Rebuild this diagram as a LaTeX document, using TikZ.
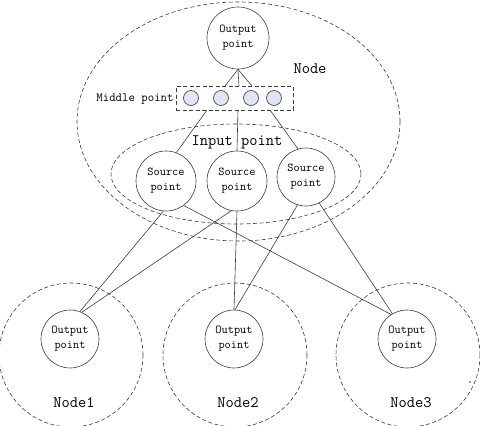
\documentclass[tikz,border=0pt]{standalone}
\usetikzlibrary{shapes.geometric}
\definecolor{midfill}{RGB}{222,230,243}
\definecolor{inkc}{RGB}{60,60,60}
\begin{document}
\begin{tikzpicture}[x=1pt,y=-1pt,
  ln/.style={draw=inkc, line width=0.6pt},
  dsh/.style={draw=inkc, line width=0.6pt, dash pattern=on 4pt off 2.5pt},
  pt/.style={circle, ln, inner sep=0pt, minimum size=#1, align=center,
    font=\ttfamily\fontsize{12}{15}\selectfont},
  grp/.style={ellipse, dsh, inner sep=0pt},
  ring/.style={circle, dsh, inner sep=0pt, minimum size=144pt},
  dotc/.style={circle, ln, fill=midfill, minimum size=15pt, inner sep=0pt},
  biglbl/.style={font=\ttfamily\fontsize{16}{18}\selectfont, inner sep=0pt},
  smalllbl/.style={font=\ttfamily\fontsize{12.5}{15}\selectfont, inner sep=0pt}]
\useasboundingbox (0,0) rectangle (480,426);

% upper node and its input group
\node[grp, minimum width=323pt, minimum height=239pt] (node) at (238.5,121.5) {};
\node[grp, minimum width=250pt, minimum height=100pt] (input) at (236,174) {};
\node[biglbl] (nodelbl) at (310,69) {Node};
\node[biglbl] (inputlbl) at (237,142) {Input point};

% output point and middle layer
\node[pt=62pt] (out) at (238,38) {Output\\point};
\node[rectangle, dsh, minimum width=117pt, minimum height=24pt, inner sep=0pt] (mbox) at (234.5,98) {};
\node[dotc] (d1) at (191,98) {};
\node[dotc] (d2) at (221,98) {};
\node[dotc] (d3) at (251,98) {};
\node[dotc] (d4) at (274,98) {};
\node[smalllbl] (midlbl) at (135,99) {Middle point};

% source points
\node[pt=60pt] (s1) at (166,181) {Source\\point};
\node[pt=60pt] (s2) at (237,181) {Source\\point};
\node[pt=58pt] (s3) at (306,177) {Source\\point};

% lower nodes
\node[ring] (n1) at (71,355) {};
\node[ring] (n2) at (235,355) {};
\node[ring] (n3) at (408,355) {};
\node[pt=58pt] (o1) at (70,339) {Output\\point};
\node[pt=58pt] (o2) at (234,339) {Output\\point};
\node[pt=58pt] (o3) at (407,339) {Output\\point};
\node[biglbl] (n1lbl) at (74,403) {Node1};
\node[biglbl] (n2lbl) at (238,403) {Node2};
\node[biglbl] (n3lbl) at (411,403) {Node3};
\fill[inkc] (470,382) circle (0.8pt);

% attachment points on the middle box
\coordinate (m1) at (225,86);
\coordinate (m2) at (239,86);
\coordinate (m3) at (252,86);
\coordinate (b1) at (207,110);
\coordinate (b2) at (238,110);
\coordinate (b3) at (270,110);

% connectors
\draw[ln] (out.south) -- (m1);
\draw[ln] (out.south) -- (m2);
\draw[ln] (out.south) -- (m3);
\draw[ln] (b1) -- (s1.70);
\draw[ln] (b2) -- (s2.north);
\draw[ln] (b3) -- (s3.106);

\draw[ln] (s1.265) -- (o1.70);
\draw[ln] (s1.-54) -- (o3.123);
\draw[ln] (s2.259) -- (o1.66);
\draw[ln] (s2.south) -- (o2.north);
\draw[ln] (s3.253) -- (o2.88);
\draw[ln] (s3.297) -- (o3.120);
\end{tikzpicture}
\end{document}
